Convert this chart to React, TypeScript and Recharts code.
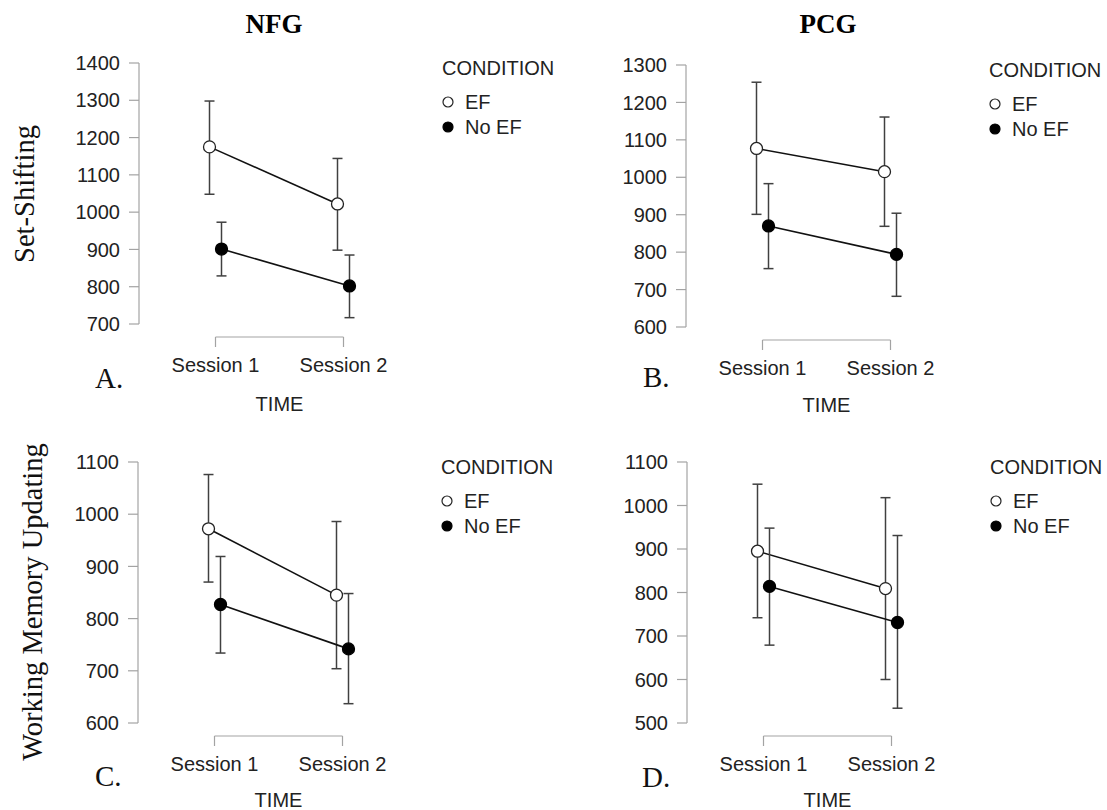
import React from 'react';
import { ComposedChart, Line, XAxis, YAxis, ErrorBar, Legend } from 'recharts';

// ---------- data ----------
const sessions = [1, 2];
const sessionLabels = ['Session 1', 'Session 2'];
const legendTitle = 'CONDITION';
const axisTitle = 'TIME';

// A. NFG – Set-Shifting
const nfgShiftEF = [1175, 1022];
const nfgShiftEFLow = [1048, 898];
const nfgShiftEFHigh = [1298, 1144];
const nfgShiftNoEF = [901, 802];
const nfgShiftNoEFLow = [829, 717];
const nfgShiftNoEFHigh = [973, 885];
const nfgShiftTicks = [700, 800, 900, 1000, 1100, 1200, 1300, 1400];

// B. PCG – Set-Shifting
const pcgShiftEF = [1077, 1015];
const pcgShiftEFLow = [901, 869];
const pcgShiftEFHigh = [1254, 1161];
const pcgShiftNoEF = [870, 794];
const pcgShiftNoEFLow = [756, 682];
const pcgShiftNoEFHigh = [983, 904];
const pcgShiftTicks = [600, 700, 800, 900, 1000, 1100, 1200, 1300];

// C. NFG – Working Memory Updating
const nfgWmuEF = [972, 845];
const nfgWmuEFLow = [870, 704];
const nfgWmuEFHigh = [1076, 986];
const nfgWmuNoEF = [827, 742];
const nfgWmuNoEFLow = [734, 637];
const nfgWmuNoEFHigh = [919, 848];
const nfgWmuTicks = [600, 700, 800, 900, 1000, 1100];

// D. PCG – Working Memory Updating
const pcgWmuEF = [895, 809];
const pcgWmuEFLow = [742, 600];
const pcgWmuEFHigh = [1049, 1018];
const pcgWmuNoEF = [814, 731];
const pcgWmuNoEFLow = [679, 534];
const pcgWmuNoEFHigh = [948, 931];
const pcgWmuTicks = [500, 600, 700, 800, 900, 1000, 1100];

// ---------- styles ----------
const FONT_SANS = '"Liberation Sans", Arial, Helvetica, sans-serif';
const FONT_SERIF = '"Liberation Serif", "Times New Roman", Times, serif';
const AXIS_COLOR = '#a3a3a3';
const TEXT_COLOR = '#222';
const LINE_COLOR = '#111';
const ERR_COLOR = '#404040';

const markerStyle: Record<string, { fill: string; stroke: string }> = {
  EF: { fill: '#ffffff', stroke: '#222' },
  'No EF': { fill: '#000000', stroke: '#000' },
};

const sessionRows = sessions.map((s, i) => ({ session: s, label: sessionLabels[i] }));

const buildRows = (mean: number[], low: number[], high: number[]) =>
  sessions.map((s, i) => ({
    session: s,
    value: mean[i],
    err: [mean[i] - low[i], high[i] - mean[i]],
  }));

// layout constants
const Y_AXIS_W = 80;
const GAP_X = 76.5;
const PLOT_W = 128;
const GAP_Y = 13;
const M_TOP = 20;
const M_RIGHT = 215.5;
const DODGE = 6;

const renderLegend = (props: any) => {
  const payload = props.payload || [];
  return (
    <svg width={150} height={100} style={{ overflow: 'visible', display: 'block' }}>
      <text x={0} y={32} fontFamily={FONT_SANS} fontSize={20} fill={TEXT_COLOR}>
        {legendTitle}
      </text>
      {payload.map((entry: any, i: number) => {
        const cy = 59 + i * 25;
        const st = markerStyle[entry.value] || markerStyle.EF;
        return (
          <g key={String(entry.value)}>
            <circle cx={6} cy={cy} r={5} fill={st.fill} stroke={st.stroke} strokeWidth={1.2} />
            <text x={23} y={cy + 7} fontFamily={FONT_SANS} fontSize={20} fill={TEXT_COLOR}>
              {entry.value}
            </text>
          </g>
        );
      })}
    </svg>
  );
};

type PanelProps = {
  left: number;
  top: number;
  plotH: number;
  xAxisH: number;
  ticks: number[];
  ef: any[];
  noef: any[];
};

const Panel = ({ left, top, plotH, xAxisH, ticks, ef, noef }: PanelProps) => {
  const width = Y_AXIS_W + GAP_X + PLOT_W + M_RIGHT;
  const height = M_TOP + plotH + GAP_Y + xAxisH + 3;
  return (
    <div style={{ position: 'absolute', left, top }}>
      <ComposedChart
        width={width}
        height={height}
        data={sessionRows}
        margin={{ top: M_TOP, right: M_RIGHT, bottom: 3, left: 0 }}
      >
        <YAxis
          yAxisId="gap"
          type="number"
          domain={[0, 1]}
          allowDataOverflow
          width={GAP_X}
          axisLine={false}
          tickLine={false}
          tick={false}
        />
        <YAxis
          yAxisId="val"
          type="number"
          domain={[ticks[0], ticks[ticks.length - 1]]}
          ticks={ticks}
          interval={0}
          width={Y_AXIS_W}
          axisLine={{ stroke: AXIS_COLOR, strokeWidth: 1.2 }}
          tickLine={{ stroke: AXIS_COLOR, strokeWidth: 1.2 }}
          tickSize={10}
          tickMargin={9}
          tick={{ fill: TEXT_COLOR, fontSize: 20, fontFamily: FONT_SANS }}
        />
        <XAxis
          xAxisId="gap"
          type="number"
          domain={[0, 1]}
          allowDataOverflow
          height={GAP_Y}
          axisLine={false}
          tickLine={false}
          tick={false}
        />
        <XAxis
          xAxisId="time"
          type="number"
          dataKey="session"
          domain={[sessions[0], sessions[sessions.length - 1]]}
          ticks={sessions}
          interval={0}
          tickFormatter={(v: number) => sessionLabels[sessions.indexOf(v)]}
          height={xAxisH}
          axisLine={{ stroke: AXIS_COLOR, strokeWidth: 1.2 }}
          tickLine={{ stroke: AXIS_COLOR, strokeWidth: 1.2 }}
          tickSize={10}
          tickMargin={11}
          tick={{ fill: TEXT_COLOR, fontSize: 20, fontFamily: FONT_SANS }}
          label={{
            value: axisTitle,
            position: 'insideBottom',
            offset: 0,
            fill: TEXT_COLOR,
            fontSize: 20,
            fontFamily: FONT_SANS,
          }}
        />
        <XAxis
          xAxisId="ef"
          hide
          height={0}
          type="number"
          dataKey="session"
          domain={[sessions[0], sessions[sessions.length - 1]]}
          padding={{ left: -DODGE, right: DODGE }}
        />
        <XAxis
          xAxisId="noef"
          hide
          height={0}
          type="number"
          dataKey="session"
          domain={[sessions[0], sessions[sessions.length - 1]]}
          padding={{ left: DODGE, right: -DODGE }}
        />
        <Line
          data={ef}
          name="EF"
          xAxisId="ef"
          yAxisId="val"
          dataKey="value"
          stroke={LINE_COLOR}
          strokeWidth={1.6}
          dot={{ r: 6, fill: markerStyle.EF.fill, stroke: markerStyle.EF.stroke, strokeWidth: 1.3 }}
          activeDot={false}
          isAnimationActive={false}
        >
          <ErrorBar dataKey="err" direction="y" width={5} stroke={ERR_COLOR} strokeWidth={1.5} />
        </Line>
        <Line
          data={noef}
          name="No EF"
          xAxisId="noef"
          yAxisId="val"
          dataKey="value"
          stroke={LINE_COLOR}
          strokeWidth={1.6}
          dot={{ r: 6, fill: markerStyle['No EF'].fill, stroke: markerStyle['No EF'].stroke, strokeWidth: 1.3 }}
          activeDot={false}
          isAnimationActive={false}
        >
          <ErrorBar dataKey="err" direction="y" width={5} stroke={ERR_COLOR} strokeWidth={1.5} />
        </Line>
        <Legend
          layout="horizontal"
          verticalAlign="middle"
          align="center"
          width={150}
          height={100}
          wrapperStyle={{ left: Y_AXIS_W + 303, top: 0 }}
          content={renderLegend}
        />
      </ComposedChart>
    </div>
  );
};

const panels = [
  {
    key: 'A',
    left: 59,
    top: 43,
    plotH: 261,
    xAxisH: 74,
    ticks: nfgShiftTicks,
    ef: buildRows(nfgShiftEF, nfgShiftEFLow, nfgShiftEFHigh),
    noef: buildRows(nfgShiftNoEF, nfgShiftNoEFLow, nfgShiftNoEFHigh),
  },
  {
    key: 'B',
    left: 606,
    top: 45,
    plotH: 262,
    xAxisH: 72,
    ticks: pcgShiftTicks,
    ef: buildRows(pcgShiftEF, pcgShiftEFLow, pcgShiftEFHigh),
    noef: buildRows(pcgShiftNoEF, pcgShiftNoEFLow, pcgShiftNoEFHigh),
  },
  {
    key: 'C',
    left: 58,
    top: 442,
    plotH: 261,
    xAxisH: 71,
    ticks: nfgWmuTicks,
    ef: buildRows(nfgWmuEF, nfgWmuEFLow, nfgWmuEFHigh),
    noef: buildRows(nfgWmuNoEF, nfgWmuNoEFLow, nfgWmuNoEFHigh),
  },
  {
    key: 'D',
    left: 607,
    top: 442,
    plotH: 261,
    xAxisH: 71,
    ticks: pcgWmuTicks,
    ef: buildRows(pcgWmuEF, pcgWmuEFLow, pcgWmuEFHigh),
    noef: buildRows(pcgWmuNoEF, pcgWmuNoEFLow, pcgWmuNoEFHigh),
  },
];

const columnTitles = [
  { text: 'NFG', x: 274, y: 33 },
  { text: 'PCG', x: 828, y: 33 },
];
const rowTitles = [
  { text: 'Set-Shifting', x: 34, y: 194 },
  { text: 'Working Memory Updating', x: 42, y: 602 },
];
const panelLetters = [
  { text: 'A.', x: 95, y: 388 },
  { text: 'B.', x: 643, y: 387 },
  { text: 'C.', x: 95, y: 786 },
  { text: 'D.', x: 642, y: 787 },
];

export default function App() {
  return (
    <div
      style={{
        position: 'absolute',
        left: 0,
        top: 0,
        width: 1107,
        height: 810,
        overflow: 'hidden',
        background: '#ffffff',
      }}
    >
      <svg width={1107} height={810} style={{ position: 'absolute', left: 0, top: 0 }}>
        {columnTitles.map((t) => (
          <text
            key={t.text}
            x={t.x}
            y={t.y}
            textAnchor="middle"
            fontFamily={FONT_SERIF}
            fontWeight="bold"
            fontSize={27}
            fill="#000"
          >
            {t.text}
          </text>
        ))}
        {rowTitles.map((t) => (
          <text
            key={t.text}
            x={t.x}
            y={t.y}
            textAnchor="middle"
            transform={`rotate(-90 ${t.x} ${t.y})`}
            fontFamily={FONT_SERIF}
            fontSize={28.5}
            fill="#111"
          >
            {t.text}
          </text>
        ))}
        {panelLetters.map((t) => (
          <text key={t.text} x={t.x} y={t.y} fontFamily={FONT_SERIF} fontSize={29} fill="#111">
            {t.text}
          </text>
        ))}
      </svg>
      {panels.map((p) => (
        <Panel
          key={p.key}
          left={p.left}
          top={p.top}
          plotH={p.plotH}
          xAxisH={p.xAxisH}
          ticks={p.ticks}
          ef={p.ef}
          noef={p.noef}
        />
      ))}
    </div>
  );
}
